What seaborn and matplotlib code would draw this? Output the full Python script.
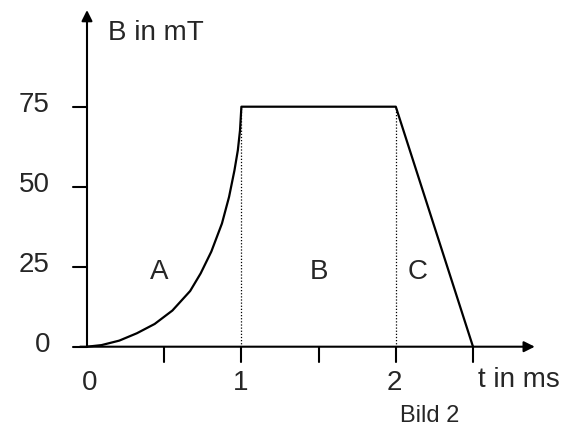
"""
Bild 2 — B(t) curve with sections A, B, C
"""
import matplotlib
matplotlib.use('Agg')
import matplotlib.pyplot as plt
import pandas as pd
import seaborn as sns

# ── data ────────────────────────────────────────────
t_ms = [0, 0.094, 0.209, 0.323, 0.438, 0.553, 0.668, 0.736, 0.805, 0.874,
        0.920, 0.955, 0.977, 0.991, 1.0, 2.0, 2.5]
b_mT = [0, 0.5, 1.9, 4.2, 7.1, 11.3, 17.4, 22.9, 29.7, 38.5,
        46.8, 55.1, 61.4, 67.6, 75, 75, 0]
y_ticks = [0, 25, 50, 75]
x_ticks = [0.5, 1, 1.5, 2, 2.5]
x_tick_labels = {'0': 0.02, '1': 0.995, '2': 1.99}
sections = {'A': 0.47, 'B': 1.5, 'C': 2.14}
marks = [1, 2]   # dotted verticals

sns.set_style('white')
plt.rcParams['font.family'] = ['Liberation Sans', 'DejaVu Sans']

fig = plt.figure(figsize=(5.78, 4.26), dpi=100)
ax = fig.add_axes([0, 0, 1, 1])
ax.set_xlim(-87 / 154.4, (578 - 87) / 154.4)
ax.set_ylim(-(426 - 346.7) / 3.2, 346.7 / 3.2)
ax.set_axis_off()

df = pd.DataFrame({'t': t_ms, 'B': b_mT})
sns.lineplot(data=df, x='t', y='B', sort=False, estimator=None,
             color='black', lw=1.6, ax=ax)

# dotted guide lines
for m in marks:
    ax.plot([m, m], [0, 75], color='black', lw=0.9, ls=(0, (1, 1.5)))

# axes with arrows
arrow = dict(arrowstyle='-|>', color='black', lw=1.5,
             mutation_scale=16, shrinkA=0, shrinkB=0)
ax.annotate('', xy=(0, 105.2), xytext=(0, 0), arrowprops=arrow)
ax.annotate('', xy=(2.90, 0), xytext=(-0.045, 0), arrowprops=arrow)

# ticks
for y in y_ticks:
    ax.plot([-0.093, 0], [y, y], color='black', lw=1.5)
    ax.text(-0.24, y + 0.5, str(y), ha='right', va='center', fontsize=20)
for x in x_ticks:
    ax.plot([x, x], [0, -4.8], color='black', lw=1.5)
for lab, x in x_tick_labels.items():
    ax.text(x, -11.5, lab, ha='center', va='center', fontsize=20)

# section labels
for lab, x in sections.items():
    ax.text(x, 23.4, lab, ha='center', va='center', fontsize=20)

ax.text(0.136, 95.8, 'B in mT', ha='left', va='baseline', fontsize=20)
ax.text(2.53, -12.5, 't in ms', ha='left', va='baseline', fontsize=20)
ax.text(2.03, -23.4, 'Bild 2', ha='left', va='baseline', fontsize=17)

fig.savefig('out.png', dpi=100, facecolor='white')
plt.close(fig)
